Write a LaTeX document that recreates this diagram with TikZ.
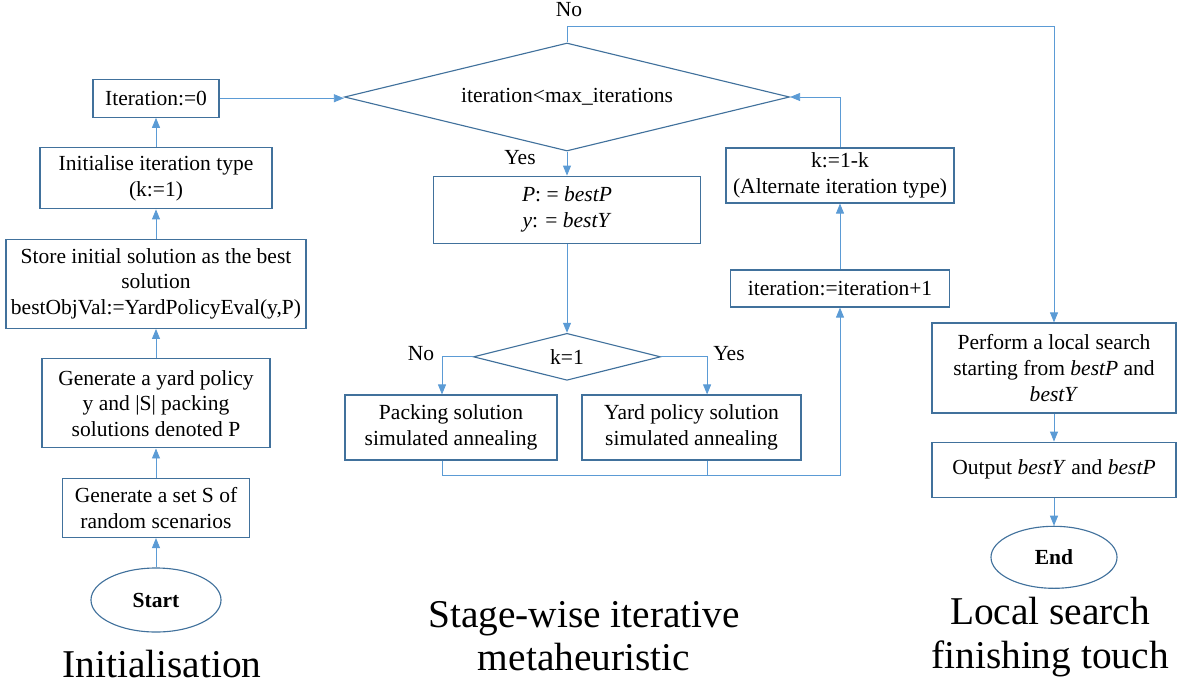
\documentclass[tikz,border=0pt]{standalone}
\usepackage{fontspec}
\setmainfont{Liberation Serif}
\usetikzlibrary{positioning,shapes.geometric,arrows.meta}
\definecolor{boxblue}{RGB}{65,113,156}
\definecolor{linkblue}{RGB}{91,155,213}

\begin{document}
\begin{tikzpicture}[x=0.025cm, y=-0.025cm, node distance=0.735cm,
  every node/.style={font=\fontsize{15.3}{18.3}\selectfont},
  box/.style={draw=boxblue, line width=0.8pt, align=center, inner sep=2pt},
  term/.style={draw=boxblue, line width=0.8pt, ellipse, font=\fontsize{15.3}{18.3}\selectfont\bfseries},
  decide/.style={draw=boxblue, line width=0.8pt, diamond, aspect=4, inner sep=0pt},
  link/.style={draw=linkblue, line width=0.6pt},
  arr/.style={link, -{Triangle[length=2.5mm,width=2mm]}},
  stage/.style={font=\fontsize{28}{31}\selectfont, align=center}]

  \useasboundingbox (0,0) rectangle (1184,686);

  % initialisation
  \node[term, minimum width=3.25cm, minimum height=1.6cm] (start) at (156,600) {Start};
  \node[box, minimum width=4.675cm, minimum height=1.475cm, above=of start] (scen) {Generate a set S of\\random scenarios};
  \node[box, minimum width=5.7cm, minimum height=2.225cm, above=of scen] (gen) {Generate a yard policy\\y and |S| packing\\solutions denoted P};
  \node[box, minimum width=7.5cm, minimum height=2.225cm, above=of gen] (store) {Store initial solution as the best\\solution\\bestObjVal:=YardPolicyEval(y,P)};
  \node[box, minimum width=5.8cm, minimum height=1.525cm, above=of store] (ktype) {Initialise iteration type\\(k:=1)};
  \node[box, minimum width=3.15cm, minimum height=0.95cm, above=of ktype] (iter0) {Iteration:=0};

  % metaheuristic
  \node[decide, minimum width=11.125cm, minimum height=2.7cm] (loop) at (567,97) {iteration<max\_iterations};
  \node[box, minimum width=6.675cm, minimum height=1.675cm, below=0.6cm of loop] (reset) {\textit{P}: = \textit{bestP}\\\textit{y}: = \textit{bestY}};
  \node[decide, minimum width=4.675cm, minimum height=1.175cm, below=2.225cm of reset] (kcheck) {k=1};
  \node[box, minimum width=5.3cm, minimum height=1.625cm] (packsa) at (451,427.5) {Packing solution\\simulated annealing};
  \node[box, minimum width=5.475cm, minimum height=1.625cm] (yardsa) at (691.5,427.5) {Yard policy solution\\simulated annealing};
  \node[box, minimum width=5.475cm, minimum height=0.925cm] (incr) at (840,288.5) {iteration:=iteration+1};
  \node[box, minimum width=5.7cm, minimum height=1.375cm] (flip) at (840,175.5) {k:=1-k\\(Alternate iteration type)};

  % local search
  \node[box, minimum width=6.1cm, minimum height=2.25cm] (local) at (1054,368) {Perform a local search\\starting from \textit{bestP} and\\\textit{bestY}};
  \node[box, minimum width=6.1cm, minimum height=1.375cm, below=0.7cm of local] (output) {Output \textit{bestY} and \textit{bestP}};
  \node[term, minimum width=3.15cm, minimum height=1.55cm, below=0.7cm of output] (end) {End};

  % branch labels
  \node (no1) at (569,10) {No};
  \node (yes1) at (520,158) {Yes};
  \node (no2) at (421,354) {No};
  \node (yes2) at (729,354) {Yes};

  % stage titles
  \node[stage] (stinit) at (162,664) {Initialisation};
  \node[stage] (stmeta) at (584,636) {Stage-wise iterative\\metaheuristic};
  \node[stage] (stlocal) at (1050,637) {Local search\\finishing touch};

  \coordinate (noturn) at (1054,26);
  \coordinate (merge) at (840,475);

  \draw[arr] (start) -- (scen);
  \draw[arr] (scen) -- (gen);
  \draw[arr] (gen) -- (store);
  \draw[arr] (store) -- (ktype);
  \draw[arr] (ktype) -- (iter0);
  \draw[arr] (iter0.east) -- (iter0.east -| loop.west);
  \draw[arr] (loop) -- (reset);
  \draw[arr] (reset) -- (kcheck);
  \draw[arr] (kcheck.west) -| ([xshift=-0.225cm]packsa.north);
  \draw[arr] (kcheck.east) -| ([xshift=0.39cm]yardsa.north);
  \draw[arr] ([xshift=-0.225cm]packsa.south) |- (merge) -- (incr.south);
  \draw[link] ([xshift=0.39cm]yardsa.south) -- ([xshift=0.39cm]yardsa.south |- merge);
  \draw[arr] (incr) -- (flip);
  \draw[arr] (flip.north) |- (loop.east);
  \draw[arr] (loop.north) |- (noturn) -- (local.north);
  \draw[arr] (local) -- (output);
  \draw[arr] (output) -- (end);

\end{tikzpicture}
\end{document}
